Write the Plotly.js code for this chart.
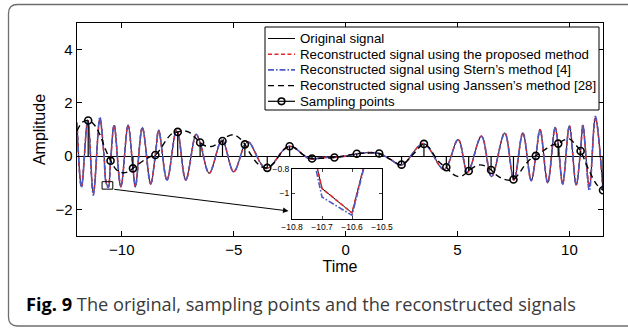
<!DOCTYPE html>
<html>
<head>
<meta charset="utf-8">
<script src="https://cdn.plot.ly/plotly-3.0.1.min.js"></script>
<style>
  html, body { margin: 0; padding: 0; background: #ffffff; }
  #chart { width: 628px; height: 330px; }
</style>
</head>
<body>
<div id="chart"></div>
<script>
// ---- Data ----
// Original signal: knots at its extrema (and a few sampled instants)
const signalT = [-12.0, -11.8, -11.52, -11.27, -10.98, -10.8, -10.7, -10.6, -10.5, -10.34,
  -10.04, -9.72, -9.5, -9.39, -9.08, -8.71, -8.5, -8.35, -7.98, -7.57,
  -7.5, -7.14, -6.68, -6.5, -6.09, -5.52, -5.0, -4.5, -4.33, -3.55,
  -2.52, -1.6, -1.0, -0.5, 0.0, 0.5, 1.0, 1.5, 2.0, 2.5,
  3.48, 4.4, 5.03, 5.45, 6.07, 6.52, 7.11, 7.52, 7.92, 8.29,
  8.5, 8.69, 9.03, 9.36, 9.5, 9.7, 10.0, 10.3, 10.5, 10.6,
  10.89, 11.16, 11.5];
const originalY = [1.25, -1.15, 1.35, -1.38, 1.38, 0.1, -0.96, -1.16, -0.2, 1.16,
  -1.15, 1.16, -0.46, -1.15, 1.07, -1.05, 0.04, 0.97, -0.9, 0.95,
  0.91, -0.9, 0.82, 0.51, -0.64, 0.6, -0.59, 0.44, 0.53, -0.46,
  0.37, -0.1, -0.05, -0.05, 0.0, 0.09, 0.13, 0.1, -0.12, -0.34,
  0.47, -0.5, 0.62, -0.6, 0.75, -0.77, 0.87, -0.9, 0.87, -0.92,
  0.01, 1.0, -1.0, 1.07, 0.4, -1.05, 1.13, -1.08, 0.25, 1.16,
  -1.15, 1.43, -1.28];
const proposedY = [1.25, -1.15, 1.35, -1.38, 1.38, 0.1, -0.96, -1.16, -0.2, 1.16,
  -1.15, 1.16, -0.46, -1.15, 1.07, -1.05, 0.04, 0.97, -0.9, 0.95,
  0.91, -0.9, 0.82, 0.51, -0.64, 0.6, -0.59, 0.44, 0.53, -0.46,
  0.37, -0.1, -0.05, -0.05, 0.0, 0.09, 0.13, 0.1, -0.12, -0.34,
  0.47, -0.5, 0.62, -0.6, 0.75, -0.77, 0.87, -0.9, 0.87, -0.92,
  0.01, 1.0, -1.0, 1.07, 0.4, -1.05, 1.13, -1.08, 0.25, 1.16,
  -1.15, 1.43, -1.28];
const sternY = [1.25, -1.18, 1.35, -1.47, 1.47, 0.1, -1.03, -1.18, -0.2, 1.16,
  -1.15, 1.16, -0.46, -1.15, 1.07, -1.05, 0.04, 0.97, -0.9, 0.95,
  0.91, -0.9, 0.82, 0.51, -0.64, 0.6, -0.59, 0.44, 0.53, -0.46,
  0.37, -0.1, -0.05, -0.05, 0.0, 0.09, 0.13, 0.1, -0.12, -0.34,
  0.47, -0.5, 0.62, -0.6, 0.75, -0.77, 0.87, -0.9, 0.87, -0.92,
  0.01, 1.0, -1.0, 1.07, 0.4, -1.05, 1.13, -1.08, 0.25, 1.16,
  -1.3, 1.5, -1.28];

// Janssen's reconstruction (black dashed)
const janssenT = [-12, -11.75, -11.5, -11.25, -11, -10.75, -10.5, -10.25, -10, -9.75,
  -9.5, -9.25, -9, -8.75, -8.5, -8.25, -8, -7.75, -7.5, -7.25,
  -7, -6.75, -6.5, -6.25, -6, -5.75, -5.5, -5.25, -5, -4.75,
  -4.5, -4.25, -4, -3.75, -3.5, -3.25, -3, -2.75, -2.5, -2.25,
  -2, -1.75, -1.5, -1, -0.5, 0, 0.5, 1, 1.5, 2,
  2.5, 3, 3.5, 3.75, 4, 4.25, 4.5, 4.75, 5, 5.25,
  5.5, 5.75, 6, 6.25, 6.5, 6.75, 7, 7.25, 7.5, 7.75,
  8, 8.25, 8.5, 8.75, 9, 9.25, 9.5, 9.75, 10, 10.25,
  10.5, 10.75, 11, 11.25, 11.5];
const janssenY = [0.95, 1.28, 1.34, 1.2, 0.85, 0.3, -0.17, -0.5, -0.62, -0.6,
  -0.46, -0.3, -0.15, -0.03, 0.04, 0.3, 0.62, 0.85, 0.91, 0.95,
  0.9, 0.72, 0.51, 0.38, 0.36, 0.45, 0.57, 0.75, 0.8, 0.68,
  0.44, 0.08, -0.22, -0.4, -0.44, -0.3, -0.02, 0.25, 0.37, 0.3,
  0.12, -0.03, -0.09, -0.08, -0.05, 0.02, 0.09, 0.12, 0.1, -0.12,
  -0.32, 0.05, 0.46, 0.3, -0.02, -0.28, -0.42, -0.65, -0.76, -0.72,
  -0.56, -0.4, -0.33, -0.38, -0.52, -0.72, -0.84, -0.9, -0.88, -0.65,
  -0.35, -0.12, 0.01, 0.15, 0.3, 0.42, 0.47, 0.6, 0.65, 0.45,
  0.19, -0.3, -0.75, -1.1, -1.28];

// Sampling points
const sampleT = [-11.5, -10.5, -9.5, -8.5, -7.5, -6.5, -5.5, -4.5, -3.5, -2.5, -1.5, -0.5,
  0.5, 1.5, 2.5, 3.5, 4.5, 5.5, 6.5, 7.5, 8.5, 9.5, 10.5, 11.5];
const sampleY = [1.34, -0.17, -0.46, 0.04, 0.91, 0.51, 0.57, 0.44, -0.44, 0.37, -0.09, -0.05,
  0.09, 0.10, -0.32, 0.46, -0.42, -0.56, -0.52, -0.88, 0.01, 0.47, 0.19, -1.28];

// Labels
const seriesNames = [
  'Original signal',
  'Reconstructed signal using the proposed method',
  'Reconstructed signal using Stern\u2019s method [4]',
  'Reconstructed signal using Janssen\u2019s method [28]',
  'Sampling points'
];
const xTicks = [-10, -5, 0, 5, 10];
const yTicks = [-2, 0, 2, 4];
const insetXTicks = [-10.8, -10.7, -10.6, -10.5];
const insetYTicks = [-1, -0.8];
const captionBold = 'Fig. 9';
const captionText = 'The original, sampling points and the reconstructed signals';

// ---- Styles ----
const RED = '#e3262b', BLUE = '#4d5cc4';
const styles = [
  {color: '#000', width: 1, dash: 'solid'},
  {color: RED, width: 1.6, dash: '4px,2.5px'},
  {color: BLUE, width: 1.6, dash: '6px,2px,1.5px,2px'},
  {color: '#000', width: 1.4, dash: '6px,4px'},
  {color: '#000', width: 1.2, dash: 'solid'}
];

// ---- Build traces ----
const stemX = [], stemY = [];
sampleT.forEach((t, i) => { stemX.push(t, t, null); stemY.push(0, sampleY[i], null); });

const traces = [
  {x: signalT, y: originalY, name: seriesNames[0], mode: 'lines',
   line: Object.assign({shape: 'spline', smoothing: 1}, styles[0])},
  {x: signalT, y: proposedY, name: seriesNames[1], mode: 'lines',
   line: Object.assign({shape: 'spline', smoothing: 1}, styles[1])},
  {x: signalT, y: sternY, name: seriesNames[2], mode: 'lines',
   line: Object.assign({shape: 'spline', smoothing: 1}, styles[2])},
  {x: janssenT, y: janssenY, name: seriesNames[3], mode: 'lines',
   line: Object.assign({shape: 'spline', smoothing: 1}, styles[3])},
  {x: stemX, y: stemY, name: seriesNames[4], mode: 'lines', line: styles[4]},
  {x: sampleT, y: sampleY, name: seriesNames[4], mode: 'markers',
   marker: {symbol: 'circle-open', size: 7, color: '#000', line: {width: 1.6, color: '#000'}}},
  // inset (zoomed view of the same series)
  {x: signalT, y: originalY, xaxis: 'x2', yaxis: 'y2', mode: 'lines', line: styles[0]},
  {x: signalT, y: proposedY, xaxis: 'x2', yaxis: 'y2', mode: 'lines', line: styles[1]},
  {x: signalT, y: sternY, xaxis: 'x2', yaxis: 'y2', mode: 'lines', line: styles[2]}
];

// ---- Layout ----
const W = 628, H = 330, ML = 77, MR = 25, MT = 23, MB = 94;
const PW = W - ML - MR, PH = H - MT - MB;
const px = v => (v - ML) / PW;          // pixel x -> paper x
const py = v => (H - MB - v) / PH;      // pixel y -> paper y

// rounded frame around figure + caption
const fl = px(8.5), fr = px(650), ft = py(4.5), fb = py(326);
const rx = 9 / PW, ry = 9 / PH;
const framePath = `M ${fr},${ft} L ${fl + rx},${ft} Q ${fl},${ft} ${fl},${ft - ry} ` +
  `L ${fl},${fb + ry} Q ${fl},${fb} ${fl + rx},${fb} L ${fr},${fb}`;

const FONT = 'Liberation Sans, Arial, Helvetica, sans-serif';
const axisFont = {family: FONT, size: 15, color: '#000'};

// legend box (drawn as shapes + text)
const LG = {left: 265, right: 599, top: 27, bottom: 110, row0: 38.5, rowStep: 15.7,
            symL: 268, symR: 295, textX: 298};
const legendShapes = [
  {type: 'rect', xref: 'paper', yref: 'paper', layer: 'above',
   x0: px(LG.left), x1: px(LG.right), y0: py(LG.bottom), y1: py(LG.top),
   fillcolor: '#fff', line: {color: '#000', width: 1}}
];
const legendAnn = [];
seriesNames.forEach((name, i) => {
  const yy = LG.row0 + i * LG.rowStep;
  legendShapes.push({type: 'line', xref: 'paper', yref: 'paper', layer: 'above',
    x0: px(LG.symL), x1: px(LG.symR), y0: py(yy), y1: py(yy),
    line: {color: styles[i].color, width: styles[i].width, dash: styles[i].dash}});
  legendAnn.push({xref: 'paper', yref: 'paper', x: px(LG.textX), y: py(yy),
    xanchor: 'left', yanchor: 'middle', showarrow: false, text: name,
    font: {family: FONT, size: 13.3, color: '#000'}});
});
{
  const cx = (LG.symL + LG.symR) / 2, cy = LG.row0 + 4 * LG.rowStep, r = 3.3;
  legendShapes.push({type: 'circle', xref: 'paper', yref: 'paper', layer: 'above',
    x0: px(cx - r), x1: px(cx + r), y0: py(cy + r), y1: py(cy - r),
    fillcolor: 'rgba(0,0,0,0)', line: {color: '#000', width: 1.6}});
}

const layout = {
  width: W, height: H,
  margin: {l: ML, r: MR, t: MT, b: MB},
  paper_bgcolor: '#fff', plot_bgcolor: '#fff',
  hovermode: false,
  showlegend: false,
  xaxis: {
    domain: [0, 1], range: [-12, 11.5], tickvals: xTicks,
    ticks: 'inside', ticklen: 5, tickcolor: '#000', showline: true, mirror: 'ticks',
    linecolor: '#000', linewidth: 1.3, showgrid: false, zeroline: false,
    tickfont: axisFont,
    title: {text: 'Time', font: {family: FONT, size: 16, color: '#000'}, standoff: 2}
  },
  yaxis: {
    domain: [0, 1], range: [-3, 5], tickvals: yTicks,
    ticks: 'inside', ticklen: 5, tickcolor: '#000', showline: true, mirror: 'ticks',
    linecolor: '#000', linewidth: 1.3, showgrid: false,
    zeroline: true, zerolinecolor: '#000', zerolinewidth: 1,
    tickfont: axisFont,
    title: {text: 'Amplitude', font: {family: FONT, size: 16, color: '#000'}, standoff: 6}
  },
  xaxis2: {
    domain: [px(292), px(382)], anchor: 'y2', range: [-10.8, -10.5], tickvals: insetXTicks,
    ticks: 'inside', ticklen: 3, showline: true, mirror: 'ticks', linecolor: '#000', linewidth: 1,
    showgrid: false, zeroline: false,
    tickfont: {family: FONT, size: 8.5, color: '#000'}
  },
  yaxis2: {
    domain: [py(219), py(169)], anchor: 'x2', range: [-1.21, -0.8], tickvals: insetYTicks,
    ticks: 'inside', ticklen: 3, showline: true, mirror: 'ticks', linecolor: '#000', linewidth: 1,
    showgrid: false, zeroline: false,
    tickfont: {family: FONT, size: 8.5, color: '#000'}
  },
  shapes: [
    {type: 'rect', xref: 'x', yref: 'y', x0: -10.88, x1: -10.4, y0: -1.24, y1: -0.96,
     line: {color: '#000', width: 1}},
    {type: 'path', xref: 'paper', yref: 'paper', path: framePath,
     line: {color: '#6e6e6e', width: 1.3}, layer: 'below'}
  ].concat(legendShapes),
  annotations: [
    {xref: 'x', yref: 'y', axref: 'x', ayref: 'y', x: -2.55, y: -2.06, ax: -10.4, ay: -1.24,
     text: '', showarrow: true, arrowhead: 2, arrowsize: 1.1, arrowwidth: 1, arrowcolor: '#000',
     standoff: 0, startstandoff: 0},
    {xref: 'paper', yref: 'paper', x: px(24), y: py(304), xanchor: 'left', yanchor: 'middle',
     showarrow: false,
     text: '<b>' + captionBold + '</b> <span style="color:#3a3a3a">' + captionText + '</span>',
     font: {family: 'Open Sans, Noto Sans, sans-serif', size: 18.2, color: '#000'}}
  ].concat(legendAnn)
};

Plotly.newPlot('chart', traces, layout, {staticPlot: true, displayModeBar: false});
</script>
</body>
</html>
